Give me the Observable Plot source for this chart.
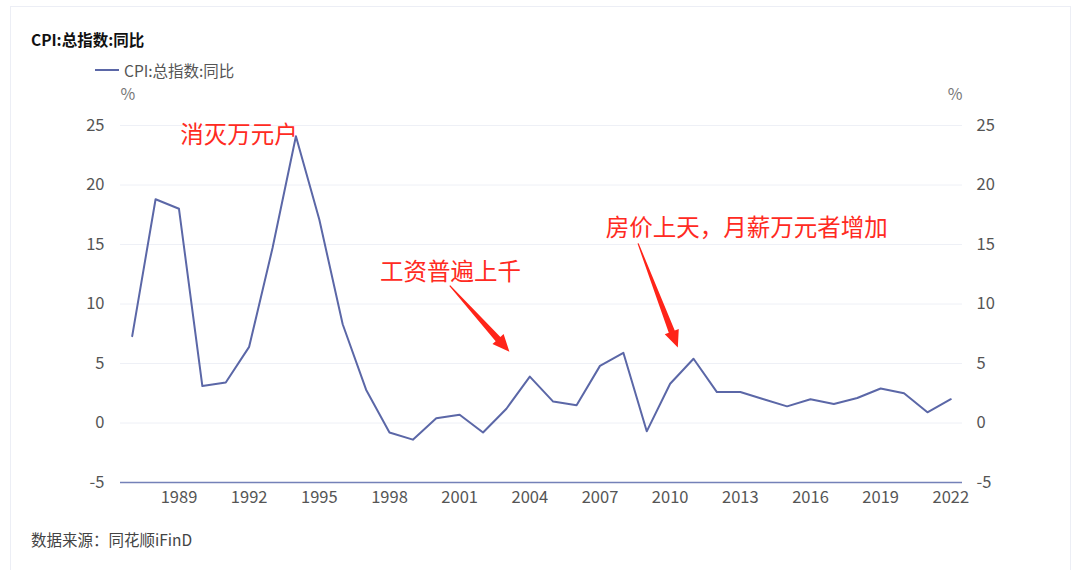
<!DOCTYPE html>
<html><head><meta charset="utf-8">
<script src="https://cdn.jsdelivr.net/npm/d3@7"></script>
<script src="https://cdn.jsdelivr.net/npm/@observablehq/plot@0.6"></script>
<style>
html,body{margin:0;padding:0;background:#fff;width:1080px;height:570px;overflow:hidden;font-family:"Noto Sans CJK SC","Noto Sans",sans-serif;}
#card{position:absolute;left:10px;top:6px;width:1061px;height:580px;border:1px solid #eceef5;box-sizing:border-box;}
#title{position:absolute;left:31px;top:28px;font-size:15.5px;font-weight:bold;color:#111;}
#legend{position:absolute;left:95px;top:59px;font-size:15.5px;color:#555;display:flex;align-items:center;}
#legend .sw{width:24px;height:2.5px;background:#5b67a7;margin-right:5px;}
#foot{position:absolute;left:31px;top:528px;font-size:15.5px;color:#444;}
#chart{position:absolute;left:0;top:80px;}
</style></head>
<body>
<div id="card"></div>
<div id="title">CPI:总指数:同比</div>
<div id="legend"><span class="sw"></span><span>CPI:总指数:同比</span></div>
<div id="chart"></div>
<div id="foot">数据来源：同花顺iFinD</div>
<script>
const years = [1987,1988,1989,1990,1991,1992,1993,1994,1995,1996,1997,1998,1999,2000,2001,2002,2003,2004,2005,2006,2007,2008,2009,2010,2011,2012,2013,2014,2015,2016,2017,2018,2019,2020,2021,2022];
const cpi = [7.3,18.8,18.0,3.1,3.4,6.4,14.7,24.1,17.1,8.3,2.8,-0.8,-1.4,0.4,0.7,-0.8,1.2,3.9,1.8,1.5,4.8,5.9,-0.7,3.3,5.4,2.6,2.6,2.0,1.4,2.0,1.6,2.1,2.9,2.5,0.9,2.0];
const xTicks = [1989,1992,1995,1998,2001,2004,2007,2010,2013,2016,2019,2022];
const yTicks = [-5,0,5,10,15,20,25];
const gridTicks = [0,5,10,15,20,25];
const noteText = ["消灭万元户","工资普遍上千","房价上天，月薪万元者增加"];
const noteX = [1989.05,1997.6,2007.25];
const noteY = [24.15,12.65,16.35];
// arrows: tail -> tip
const arrowX1 = [2000.6,2008.65];
const arrowY1 = [11.5,15.05];
const arrowX2 = [2003.15,2010.35];
const arrowY2 = [5.95,6.3];

const series = years.map((y,i)=>({year:y,value:cpi[i]}));
const notes = noteText.map((t,i)=>({text:t,x:noteX[i],y:noteY[i]}));
const arrows = arrowX1.map((x,i)=>({x1:x,y1:arrowY1[i],x2:arrowX2[i],y2:arrowY2[i]}));

function taperedArrows(index, scales) {
  const g = d3.create("svg:g");
  for (const a of arrows) {
    const tx = scales.x(a.x1), ty = scales.y(a.y1);
    const px = scales.x(a.x2), py = scales.y(a.y2);
    const L = Math.hypot(px-tx, py-ty);
    const ux = (px-tx)/L, uy = (py-ty)/L;
    const nx = -uy, ny = ux;
    const h = 17, hw = 7.5, sw = 3.2, tw = 0.6;
    const bx = px-ux*h, by = py-uy*h;
    const pts = [
      [tx+nx*tw, ty+ny*tw],[bx+nx*sw, by+ny*sw],[bx+nx*hw, by+ny*hw],[px,py],
      [bx-nx*hw, by-ny*hw],[bx-nx*sw, by-ny*sw],[tx-nx*tw, ty-ny*tw]
    ];
    g.append("polygon").attr("points", pts.map(p=>p.join(",")).join(" ")).attr("fill","#ff2419");
  }
  return g.node();
}

const chart = Plot.plot({
  width: 1080,
  height: 435,
  marginTop: 45,
  marginBottom: 33,
  marginLeft: 120,
  marginRight: 118,
  style: {fontFamily: '"Noto Sans CJK SC","Noto Sans",sans-serif', fontSize: "16px", color: "#555", background: "transparent"},
  x: {domain: [1986.5, 2022.5]},
  y: {domain: [-5, 25]},
  marks: [
    Plot.ruleY(gridTicks, {stroke: "#eef0f6", strokeWidth: 1}),
    Plot.ruleY([-5], {stroke: "#7481b8", strokeWidth: 1.5}),
    Plot.axisX({ticks: xTicks, tickFormat: d => String(d), tickSize: 0, tickPadding: 9, label: null, fontSize: 16.5, fill: "#555"}),
    Plot.axisY({anchor: "left", ticks: yTicks, tickFormat: d => String(d), tickSize: 0, tickPadding: 16, label: null, fontSize: 16.5, fill: "#555"}),
    Plot.axisY({anchor: "right", ticks: yTicks, tickFormat: d => String(d), tickSize: 0, tickPadding: 14, label: null, fontSize: 16.5, fill: "#555"}),
    Plot.text(["%"], {frameAnchor: "top-left", dx: 0, dy: -37, fill: "#777", fontSize: 16}),
    Plot.text(["%"], {frameAnchor: "top-right", dx: 0, dy: -37, fill: "#777", fontSize: 16}),
    Plot.line(series, {x: "year", y: "value", stroke: "#5b67a7", strokeWidth: 2}),
    Plot.text(notes, {x: "x", y: "y", text: "text", textAnchor: "start", fill: "#ff2a22", fontSize: 23.5}),
    taperedArrows
  ]
});
document.getElementById("chart").appendChild(chart);
</script>
</body></html>
